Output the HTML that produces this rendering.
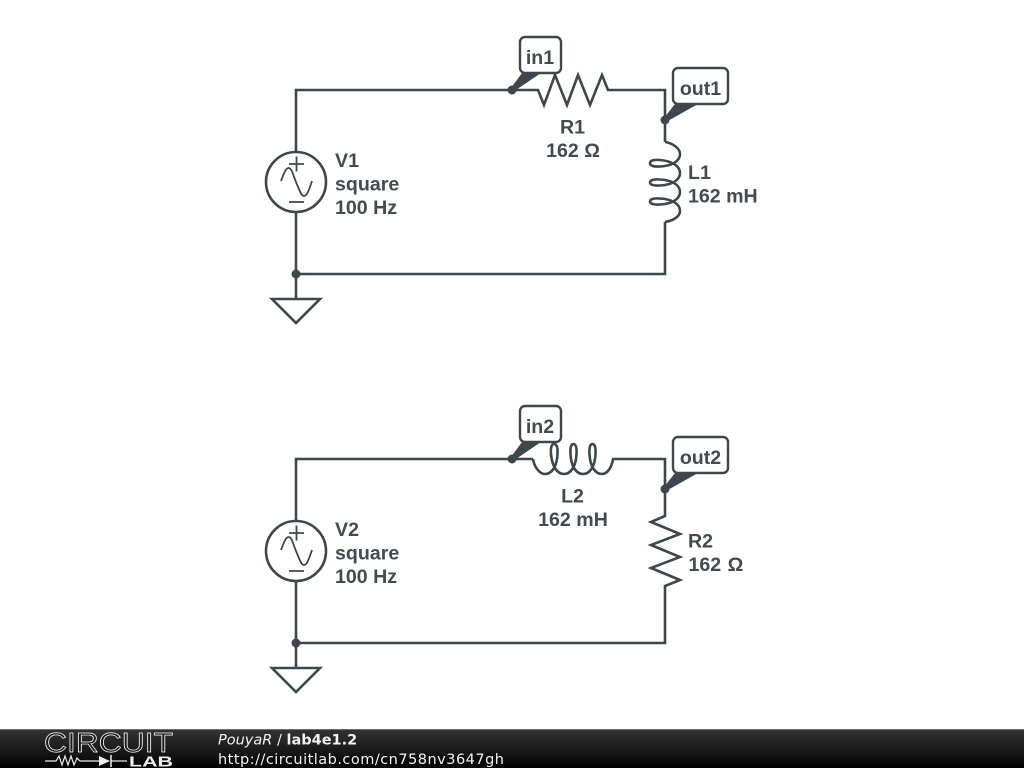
<!DOCTYPE html>
<html><head><meta charset="utf-8"><style>
html,body{margin:0;padding:0;background:#fff;width:1024px;height:768px;overflow:hidden}
svg{display:block}
.w{fill:none;stroke:#3e474c;stroke-width:2.6;stroke-linejoin:miter}
.t{font-family:"Liberation Sans",sans-serif;font-weight:bold;font-size:19.6px;fill:#424b50}
.s{fill:none;stroke:#3e474c;stroke-width:1.8}
</style></head><body>
<svg width="1024" height="768" viewBox="0 0 1024 768" xmlns="http://www.w3.org/2000/svg">
<defs>
<linearGradient id="g" x1="0" y1="0" x2="0" y2="1"><stop offset="0" stop-color="#333"/><stop offset=".5" stop-color="#1c1c1c"/><stop offset="1" stop-color="#000"/></linearGradient>
<path id="coil" d="M665 142C672 143 680 148 680 154C680 161 672 166 660 166.500C653 167 650 165.500 650 163C650 160.500 654 159.500 660 160C672 161 680 166 680 173C680 180 672 185 660 185.500C653 186 650 184.500 650 182.500C650 180 654 179 660 179.500C672 180 680 185 680 192C680 199 672 204 660 204.500C653 205 650 203.500 650 201.500C650 199 654 198 660 198.500C672 199 680 204 680 211C680 217 672 221 665 222"/>
</defs>
<rect width="1024" height="768" fill="#fff"/>

<!-- Circuit 1 -->
<path class="w" d="M296 152V90H538L544 105L555 75L567 105L578 75L590 105L602 75L608 90H665V142"/>
<use href="#coil" class="w"/>
<path class="w" d="M665 222V274H296M296 212V298"/>
<circle cx="296" cy="182" r="30" class="w"/>
<path class="s" d="M289 164H304M296.500 156.500V171.500M289 202H304"/>
<path class="s" d="M281 181C284 173 286 168 288.500 168C292 168 293 175 296 182C299 189 301 196 304 196C307 196 309 190 312 181"/>
<circle cx="296" cy="274" r="4.500" fill="#3e474c"/>
<path class="w" d="M272 299H320L296 323Z"/>
<path d="M511 88L522 73H541L513 92Z" fill="#3e474c"/>
<circle cx="512" cy="90" r="4.500" fill="#3e474c"/>
<rect x="520" y="37" width="41" height="36" rx="5" fill="#fff" stroke="#3e474c" stroke-width="2.400"/>
<text class="t" x="540" y="64" text-anchor="middle">in1</text>
<path d="M664 118L675 104H698L666 122Z" fill="#3e474c"/>
<circle cx="665" cy="120" r="4.500" fill="#3e474c"/>
<rect x="673" y="68" width="55" height="36" rx="5" fill="#fff" stroke="#3e474c" stroke-width="2.400"/>
<text class="t" x="700.500" y="95" text-anchor="middle">out1</text>
<text class="t" x="572.500" y="133.500" text-anchor="middle">R1</text>
<text class="t" x="573" y="157" text-anchor="middle">162 Ω</text>
<text class="t" x="335" y="167">V1</text>
<text class="t" x="335" y="190.500">square</text>
<text class="t" x="335" y="214">100 Hz</text>
<text class="t" x="688" y="179">L1</text>
<text class="t" x="688" y="202.500">162 mH</text>

<!-- Circuit 2 -->
<path class="w" d="M296 521V459H533"/>
<path class="w" d="M612 459H665V516L651 522L680 534L651 545L680 557L651 568L680 580L665 586V643H296M296 581V667"/>
<use href="#coil" class="w" transform="matrix(0 1 1 0 391 -206)"/>
<circle cx="296" cy="551" r="30" class="w"/>
<path class="s" d="M289 533H304M296.500 525.500V540.500M289 571H304"/>
<path class="s" d="M281 550C284 542 286 537 288.500 537C292 537 293 544 296 551C299 558 301 565 304 565C307 565 309 559 312 550"/>
<circle cx="296" cy="643" r="4.500" fill="#3e474c"/>
<path class="w" d="M272 668H320L296 692Z"/>
<path d="M511 457L522 442H541L513 461Z" fill="#3e474c"/>
<circle cx="512" cy="459" r="4.500" fill="#3e474c"/>
<rect x="520" y="406" width="41" height="36" rx="5" fill="#fff" stroke="#3e474c" stroke-width="2.400"/>
<text class="t" x="540" y="433" text-anchor="middle">in2</text>
<path d="M664 487L675 473H698L666 491Z" fill="#3e474c"/>
<circle cx="665" cy="489" r="4.500" fill="#3e474c"/>
<rect x="673" y="437" width="55" height="36" rx="5" fill="#fff" stroke="#3e474c" stroke-width="2.400"/>
<text class="t" x="700.500" y="464" text-anchor="middle">out2</text>
<text class="t" x="572.500" y="502.500" text-anchor="middle">L2</text>
<text class="t" x="573" y="526" text-anchor="middle">162 mH</text>
<text class="t" x="335" y="536">V2</text>
<text class="t" x="335" y="559.500">square</text>
<text class="t" x="335" y="583">100 Hz</text>
<text class="t" x="688" y="547.500">R2</text>
<text class="t" x="688.500" y="571" word-spacing="1">162 Ω</text>

<!-- Footer -->
<rect x="0" y="729" width="1024" height="39" fill="url(#g)"/>
<rect x="0" y="729" width="1024" height="1" fill="#999" opacity=".6"/>
<text x="44" y="752" font-family="Liberation Sans,sans-serif" font-size="28" textLength="129" lengthAdjust="spacingAndGlyphs" fill="#1c1c1c" stroke="#fff" stroke-width=".7">CIRCUIT</text>
<path d="M45 761H56L59 756L62 765L65 756L68 765L71 756L74 765L77 758L80 761H99" fill="none" stroke="#eee" stroke-width="1.200"/>
<path d="M99 756V766L110 761Z" fill="#eee"/>
<path d="M111 755V767" stroke="#eee" stroke-width="1.500"/>
<path d="M111 761H127" stroke="#eee" stroke-width="1.200"/>
<text x="129" y="766.500" font-family="Liberation Sans,sans-serif" font-weight="bold" font-size="15" textLength="44" lengthAdjust="spacingAndGlyphs" fill="#eee">LAB</text>
<text x="218" y="744.500" font-family="DejaVu Sans,sans-serif" font-size="14.500" fill="#f2f2f2"><tspan font-style="italic">PouyaR</tspan> / <tspan font-weight="bold">lab4e1.2</tspan></text>
<text x="218" y="764" font-family="DejaVu Sans,sans-serif" font-size="14.500" fill="#f2f2f2" textLength="286">http://circuitlab.com/cn758nv3647gh</text>
</svg>
</body></html>
